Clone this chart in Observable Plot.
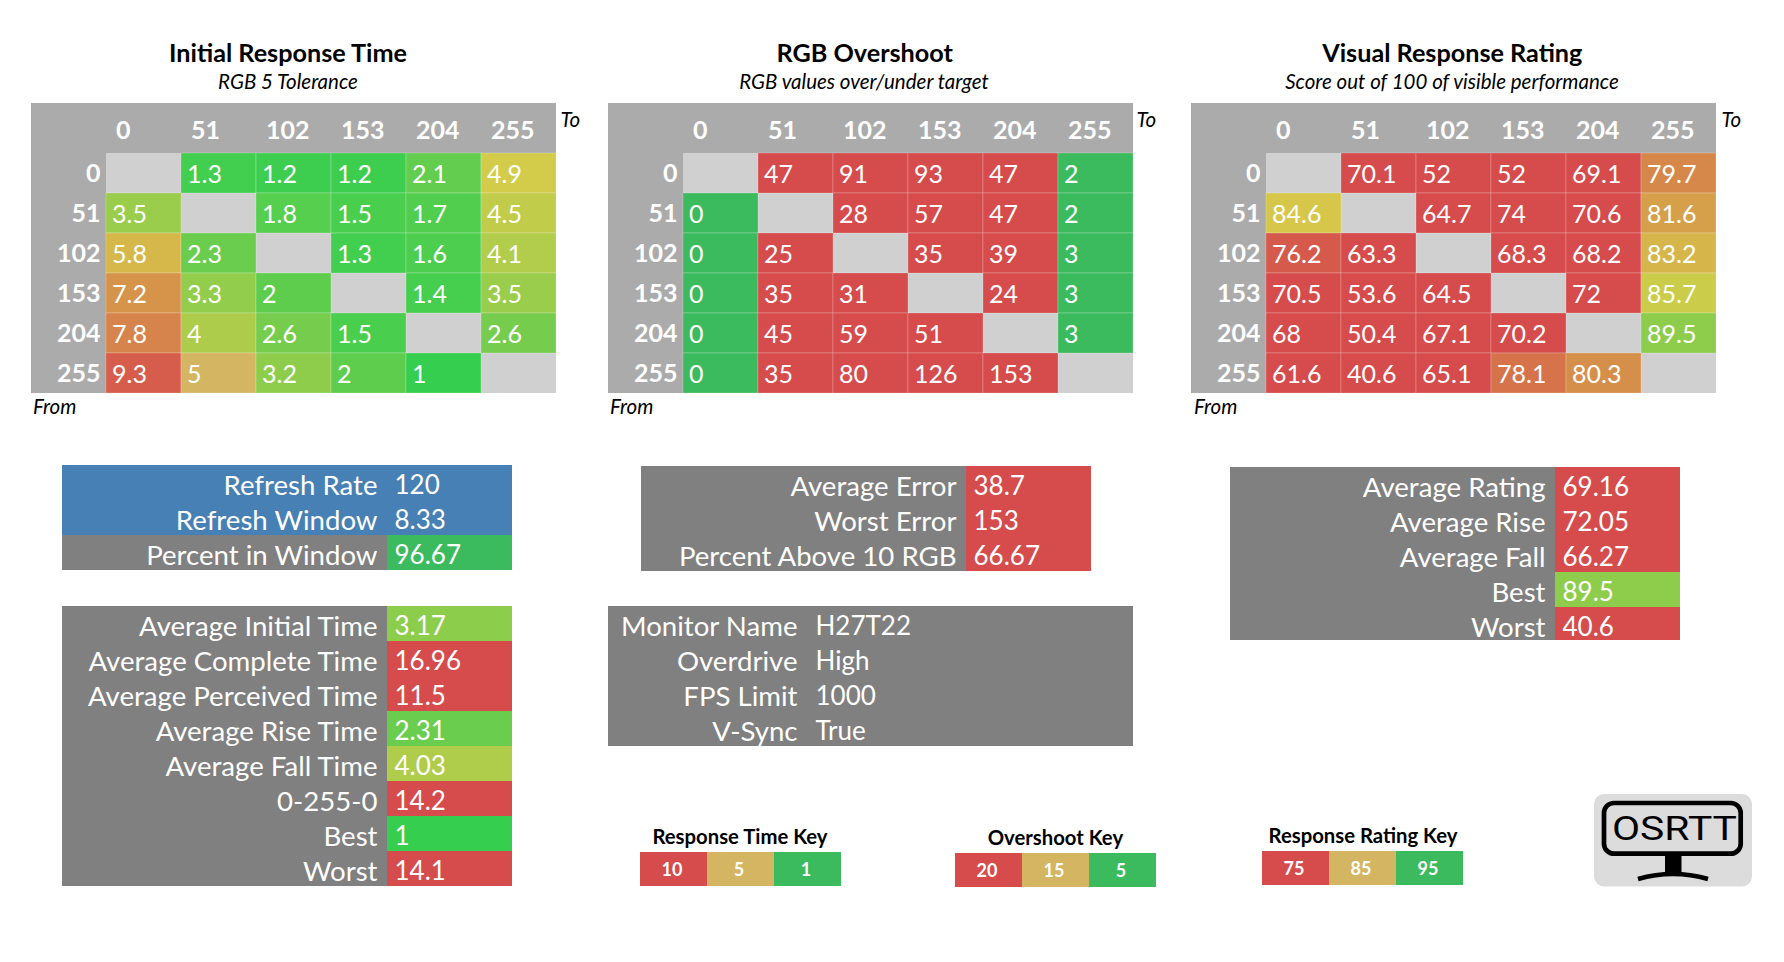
<!DOCTYPE html>
<html><head><meta charset="utf-8">
<script src="https://cdn.jsdelivr.net/npm/d3@7"></script>
<script src="https://cdn.jsdelivr.net/npm/@observablehq/plot@0.6"></script>
<style>
html,body{margin:0;padding:0;background:#fff;font-family:Lato,sans-serif}
#page{position:relative;width:1784px;height:962px;overflow:hidden}
.abs{position:absolute;white-space:nowrap;line-height:1}
.panel{position:absolute}
.panel svg{display:block;max-width:none}
.title{font-weight:700;font-size:25.2px;transform:translate(-50%,-50%);color:#000}
.sub{font-style:italic;font-size:20.5px;transform:translate(-50%,-50%);color:#000}
.note{font-style:italic;font-size:20.5px;transform:translateY(-50%);color:#000}
.key{font-weight:700;font-size:20.3px;transform:translate(-50%,-50%);color:#000}
</style></head><body><div id="page"></div>
<script>
const levels = [0,51,102,153,204,255];
const responseGrid = [
 [null,1.3,1.2,1.2,2.1,4.9],[3.5,null,1.8,1.5,1.7,4.5],[5.8,2.3,null,1.3,1.6,4.1],
 [7.2,3.3,2,null,1.4,3.5],[7.8,4,2.6,1.5,null,2.6],[9.3,5,3.2,2,1,null]];
const overshootGrid = [
 [null,47,91,93,47,2],[0,null,28,57,47,2],[0,25,null,35,39,3],
 [0,35,31,null,24,3],[0,45,59,51,null,3],[0,35,80,126,153,null]];
const ratingGrid = [
 [null,70.1,52,52,69.1,79.7],[84.6,null,64.7,74,70.6,81.6],[76.2,63.3,null,68.3,68.2,83.2],
 [70.5,53.6,64.5,null,72,85.7],[68,50.4,67.1,70.2,null,89.5],[61.6,40.6,65.1,78.1,80.3,null]];

const RED="#d64b4b", TAN="#d4b561", GREEN="#3bba5e", BRIGHT="#36ce4f", YEL="#d6cc4a";
const GREY="#808080", BLUE="#4780b4";
const responseScale = {type:"linear",clamp:true,domain:[1,4.99,5,5.01,10],range:[BRIGHT,YEL,TAN,YEL,RED]};
const overshootScale = {type:"linear",clamp:true,domain:[5,15,20],range:[GREEN,TAN,RED]};
const ratingScale = {type:"linear",clamp:true,domain:[75,85,95],range:[RED,YEL,BRIGHT]};

const refreshLabels = ["Refresh Rate","Refresh Window","Percent in Window"];
const refreshValues = ["120","8.33","96.67"];
const refreshLabelFills = [BLUE,BLUE,GREY];
const refreshValueFills = [BLUE,BLUE,GREEN];
const timeLabels = ["Average Initial Time","Average Complete Time","Average Perceived Time","Average Rise Time","Average Fall Time","0-255-0","Best","Worst"];
const timeValues = [3.17,16.96,11.5,2.31,4.03,14.2,1,14.1];
const errorLabels = ["Average Error","Worst Error","Percent Above 10 RGB"];
const errorValues = [38.7,153,66.67];
const monitorLabels = ["Monitor Name","Overdrive","FPS Limit","V-Sync"];
const monitorValues = ["H27T22","High","1000","True"];
const ratingLabels = ["Average Rating","Average Rise","Average Fall","Best","Worst"];
const ratingValues = [69.16,72.05,66.27,89.5,40.6];
const responseKey = [10,5,1];
const overshootKey = [20,15,5];
const ratingKey = [75,85,95];
const keyFills = [RED,TAN,GREEN];

const page = document.getElementById("page");
function place(node,left,top,w,h){
  const d=document.createElement("div");d.className="panel";
  d.style.left=left+"px";d.style.top=top+"px";d.style.width=w+"px";d.style.height=h+"px";
  d.appendChild(node);page.appendChild(d);
}
function label(cls,text,x,y){
  const d=document.createElement("div");d.className="abs "+cls;d.textContent=text;
  d.style.left=x+"px";d.style.top=y+"px";page.appendChild(d);
}
const FONT="Lato, sans-serif";
function heatmap(grid,scale,left){
  const cells=grid.flatMap((r,i)=>r.map((v,j)=>({from:levels[i],to:levels[j],v})));
  const svg=Plot.plot({
    width:525,height:290,marginLeft:75,marginTop:50,marginRight:0,marginBottom:0,
    style:{background:"#ababab",fontFamily:FONT},
    x:{type:"band",domain:levels,padding:0,label:null},
    y:{type:"band",domain:levels,padding:0,label:null},
    color:scale,
    marks:[
      Plot.cell(cells.filter(d=>d.v==null),{x:"to",y:"from",fill:"#d0d0d0"}),
      Plot.cell(cells.filter(d=>d.v!=null),{x:"to",y:"from",fill:"v",stroke:"#fff",strokeOpacity:0.22,strokeWidth:1}),
      Plot.text(cells.filter(d=>d.v!=null),{x:"to",y:"from",text:d=>String(d.v),fill:"white",fontSize:25,textAnchor:"start",dx:-32,dy:1}),
      Plot.axisX({anchor:"top",tickSize:0,tickPadding:14.5,textAnchor:"start",dx:-28,color:"white",fontSize:25,fontWeight:"bold",label:null}),
      Plot.axisY({anchor:"left",tickSize:0,tickPadding:6,dy:0,color:"white",fontSize:25,fontWeight:"bold",label:null})
    ]});
  place(svg,left,103,525,290);
}
function table(o){
  const rowH=35,h=rowH*o.labels.length,idx=o.labels.map((_,i)=>i);
  const trim=o.trimLast||0, head=idx.slice(0,-1), tail=idx.slice(-1);
  const common={height:h,marginLeft:0,marginRight:0,marginTop:0,marginBottom:0,
    style:{fontFamily:FONT,background:"transparent"},
    x:{axis:null},y:{type:"band",domain:idx,padding:0,axis:null}};
  const lf=o.labelFills||o.labels.map(()=>GREY);
  place(Plot.plot({...common,width:o.labelW,marks:[
    Plot.cell(head,{y:i=>i,fill:i=>lf[i]}),
    Plot.cell(tail,{y:i=>i,fill:i=>lf[i],insetBottom:trim}),
    Plot.text(idx,{y:i=>i,text:i=>o.labels[i],frameAnchor:"right",dx:-o.padR,dy:3,fill:"white",fontSize:27.6})
  ]}),o.left,o.top,o.labelW,h);
  const vf=i=>o.fills?o.fills[i]:o.values[i];
  place(Plot.plot({...common,width:o.valueW,color:o.scale||undefined,marks:[
    Plot.cell(head,{y:i=>i,fill:vf}),
    Plot.cell(tail,{y:i=>i,fill:vf,insetBottom:trim}),
    Plot.text(idx,{y:i=>i,text:i=>String(o.values[i]),frameAnchor:"left",dx:o.padL,dy:3,fill:"white",fontSize:26})
  ]}),o.left+o.labelW,o.top,o.valueW,h);
}
function keyBar(vals,left,top){
  place(Plot.plot({width:201,height:34,marginLeft:0,marginRight:0,marginTop:0,marginBottom:0,
    style:{fontFamily:FONT,background:"transparent"},
    x:{type:"band",domain:vals,padding:0,axis:null},y:{axis:null},
    marks:[
      Plot.cell(vals,{x:d=>d,fill:(d,i)=>keyFills[i]}),
      Plot.text(vals,{x:d=>d,text:d=>String(d),frameAnchor:"middle",dx:-2,dy:1,fill:"white",fontSize:18,fontWeight:"bold"})
    ]}),left,top,201,34);
}

heatmap(responseGrid,responseScale,31);
heatmap(overshootGrid,overshootScale,608);
heatmap(ratingGrid,ratingScale,1191);

label("title","Initial Response Time",288,52.5);
label("sub","RGB 5 Tolerance",288,81);
label("title","RGB Overshoot",864.7,52.5);
label("sub","RGB values over/under target",864,81);
label("title","Visual Response Rating",1452.3,52.5);
label("sub","Score out of 100 of visible performance",1452,81);
label("note","To",560.5,119);label("note","To",1136.6,119);label("note","To",1721.5,119);
label("note","From",33,406);label("note","From",610,406);label("note","From",1194,406);

table({left:62,top:465,labelW:325,valueW:125,labels:refreshLabels,values:refreshValues,labelFills:refreshLabelFills,fills:refreshValueFills,padR:10,padL:7});
table({left:62,top:606,labelW:325,valueW:125,labels:timeLabels,values:timeValues,scale:responseScale,padR:10,padL:7});
table({left:641,top:466,labelW:325,valueW:125,labels:errorLabels,values:errorValues,scale:overshootScale,padR:10,padL:7});
table({left:608,top:606,labelW:199,valueW:326,labels:monitorLabels,values:monitorValues,fills:monitorLabels.map(()=>GREY),padR:10,padL:8});
table({left:1230,top:467,labelW:325,valueW:125,labels:ratingLabels,values:ratingValues,scale:ratingScale,padR:10,padL:7,trimLast:2});

label("key","Response Time Key",740,836);
label("key","Overshoot Key",1055.4,837);
label("key","Response Rating Key",1363,835);
keyBar(responseKey,640,852);
keyBar(overshootKey,955,853);
keyBar(ratingKey,1262,851);

const logo=document.createElement("div");logo.className="abs";
logo.style.left="1594px";logo.style.top="794px";
logo.innerHTML=`<svg width="158" height="93" viewBox="0 0 158 93" xmlns="http://www.w3.org/2000/svg" style="display:block">
<rect width="158" height="92.5" rx="10" fill="#dcdcdc"/>
<rect x="10" y="9" width="136.7" height="50.7" rx="10" fill="none" stroke="#000" stroke-width="4.7"/>
<text x="18" y="46" textLength="125" lengthAdjust="spacingAndGlyphs" font-family="Roboto" font-size="34" fill="#000">OSRTT</text>
<rect x="71" y="62" width="16.5" height="20" fill="#000"/>
<path d="M44 85 Q79 75 114 85" fill="none" stroke="#000" stroke-width="4.5"/>
</svg>`;
page.appendChild(logo);
</script></body></html>
